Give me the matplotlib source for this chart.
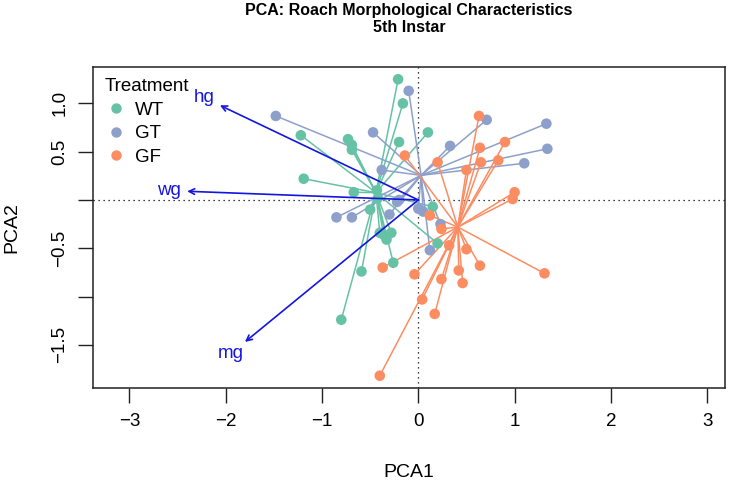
import numpy as np
import matplotlib
matplotlib.use('Agg')
import matplotlib.pyplot as plt
from matplotlib.lines import Line2D

plt.rcParams['font.family'] = ['Liberation Sans', 'DejaVu Sans']

# PCA scores
wt_x = [-0.21, -0.16, -1.22, -0.73, -0.69, -0.69, -0.20, 0.10, -1.19, -0.67, -0.43,
        -0.50, -0.40, -0.28, -0.33, -0.36, -0.59, -0.26, -0.80, 0.15, 0.20, -0.42]
wt_y = [1.25, 1.00, 0.67, 0.63, 0.57, 0.52, 0.60, 0.70, 0.22, 0.08, 0.10,
        -0.10, -0.34, -0.34, -0.41, -0.36, -0.74, -0.65, -1.24, -0.07, -0.45, 0.02]
gt_x = [-1.48, -0.47, -0.10, 0.33, 0.71, 1.33, 1.34, 1.10, -0.38, -0.85, -0.69,
        -0.30, -0.22, -0.20, 0.00, 0.05, 0.23, 0.12]
gt_y = [0.87, 0.70, 1.13, 0.56, 0.83, 0.79, 0.53, 0.38, 0.31, -0.18, -0.18,
        -0.15, -0.02, 0.00, -0.09, -0.12, -0.25, -0.52]
gf_x = [-0.14, 0.63, 0.90, 0.64, 0.65, 0.83, 0.50, 0.20, 1.00, 0.98, 0.12, 0.24,
        0.32, 0.50, 0.64, 0.42, 0.46, 0.24, 0.04, 0.17, -0.04, -0.37, 1.31, -0.40]
gf_y = [0.46, 0.87, 0.60, 0.54, 0.39, 0.41, 0.31, 0.39, 0.08, 0.01, -0.16, -0.30,
        -0.47, -0.51, -0.68, -0.73, -0.86, -0.82, -1.03, -1.18, -0.77, -0.70, -0.76, -1.82]

groups = ['WT', 'GT', 'GF']
colors = ['#66C2A5', '#8DA0CB', '#FC8D62']

# loading arrows
var_names = ['hg', 'wg', 'mg']
var_x = [-2.06, -2.40, -1.80]
var_y = [0.98, 0.09, -1.47]

fig = plt.figure(figsize=(7.33, 4.83), dpi=100)
ax = fig.add_axes([0.1273, 0.1961, 0.8618, 0.6658])

data = [(wt_x, wt_y), (gt_x, gt_y), (gf_x, gf_y)]
for (xs, ys), c in zip(data, colors):
    xs = np.array(xs)
    ys = np.array(ys)
    cx, cy = xs.mean(), ys.mean()
    for px, py in zip(xs, ys):
        ax.plot([cx, px], [cy, py], color=c, lw=1.1, zorder=2)
for (xs, ys), c in zip(data, colors):
    ax.scatter(xs, ys, s=58, color=c, edgecolors='none', zorder=3)

ax.axhline(0, color='k', ls=(0, (1, 3)), lw=0.9, zorder=1)
ax.axvline(0, color='k', ls=(0, (1, 3)), lw=0.9, zorder=1)

for name, vx, vy in zip(var_names, var_x, var_y):
    ax.annotate('', xy=(vx, vy), xytext=(0, 0),
                arrowprops=dict(arrowstyle='->', color='#1515E0', lw=1.2,
                                shrinkA=0, shrinkB=0, mutation_scale=10), zorder=4)
    ax.text(vx * 1.08, vy * 1.08, name, color='#1515E0', fontsize=13.5,
            ha='center', va='center', zorder=4)

ax.set_xlim(-3.375, 3.185)
ax.set_ylim(-1.95, 1.38)
ax.set_xticks([-3, -2, -1, 0, 1, 2, 3])
ax.set_xticklabels(['\u22123', '\u22122', '\u22121', '0', '1', '2', '3'])
ax.set_yticks([1.0, 0.5, 0, -0.5, -1.0, -1.5])
ax.set_yticklabels(['1.0', '0.5', '', '\u22120.5', '', '\u22121.5'], rotation=90, va='center')
ax.tick_params(length=11, width=1, labelsize=13.5, pad=7, colors='#222222', labelcolor='k')
for s in ax.spines.values():
    s.set_linewidth(1.1)
    s.set_color('#222222')

ax.set_xlabel('PCA1', fontsize=14, labelpad=24)
ax.set_ylabel('PCA2', fontsize=14, labelpad=22)

handles = [Line2D([], [], ls='none', marker='o', markersize=7.5, color=c, markeredgewidth=0)
           for c in colors]
leg = ax.legend(handles, groups, title='Treatment', loc='upper left', frameon=False,
                fontsize=13.5, title_fontsize=13.5, handletextpad=0.4, handlelength=1.2,
                borderaxespad=0.2, labelspacing=0.35, alignment='left')

fig.text(409 / 733, 1 - 10 / 483, 'PCA: Roach Morphological Characteristics',
         ha='center', va='center', fontsize=11.5, fontweight='bold')
fig.text(409 / 733, 1 - 28 / 483, '5th Instar',
         ha='center', va='center', fontsize=11.5, fontweight='bold')

fig.savefig('out.png', dpi=100)
